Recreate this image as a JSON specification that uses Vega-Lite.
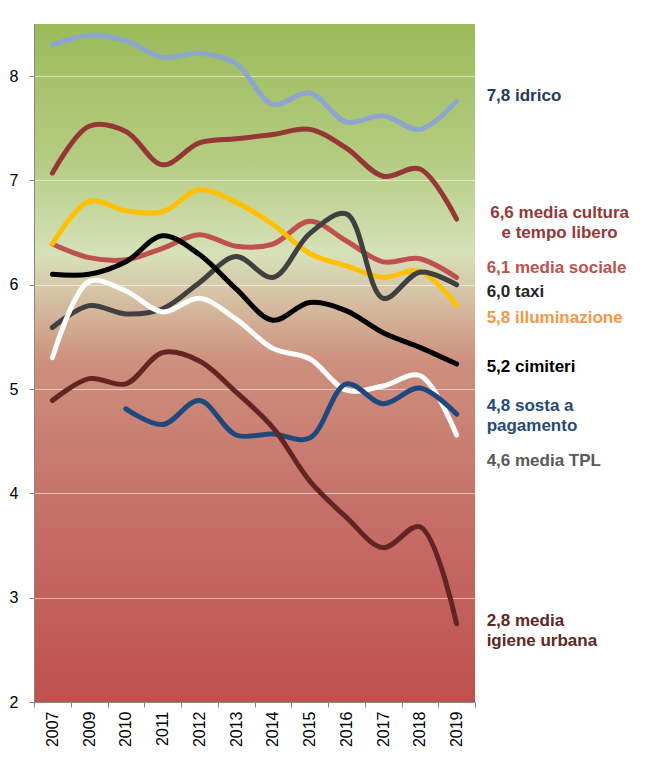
{
  "$schema": "https://vega.github.io/schema/vega-lite/v6.json",
  "width": 441,
  "height": 678,
  "padding": {"left": 9, "top": 24, "right": 5, "bottom": 5},
  "background": "white",
  "config": {
    "font": "Liberation Sans",
    "view": {
      "stroke": null,
      "fill": {
        "gradient": "linear", "x1": 0, "y1": 0, "x2": 0, "y2": 1,
        "stops": [
          {"offset": 0, "color": "#9BBB59"},
          {"offset": 0.2, "color": "#B5CC82"},
          {"offset": 0.34, "color": "#D6E1B9"},
          {"offset": 0.4, "color": "#D6C2A4"},
          {"offset": 0.5, "color": "#CD8F7D"},
          {"offset": 0.7, "color": "#C6726A"},
          {"offset": 1, "color": "#C0504D"}
        ]
      }
    }
  },
  "datasets": {
    "series": [
      {"year": "2007", "series": "idrico", "value": 8.30},
      {"year": "2009", "series": "idrico", "value": 8.39},
      {"year": "2010", "series": "idrico", "value": 8.34},
      {"year": "2011", "series": "idrico", "value": 8.18},
      {"year": "2012", "series": "idrico", "value": 8.22},
      {"year": "2013", "series": "idrico", "value": 8.12},
      {"year": "2014", "series": "idrico", "value": 7.73},
      {"year": "2015", "series": "idrico", "value": 7.84},
      {"year": "2016", "series": "idrico", "value": 7.56},
      {"year": "2017", "series": "idrico", "value": 7.62},
      {"year": "2018", "series": "idrico", "value": 7.49},
      {"year": "2019", "series": "idrico", "value": 7.76},

      {"year": "2007", "series": "cultura", "value": 7.07},
      {"year": "2009", "series": "cultura", "value": 7.52},
      {"year": "2010", "series": "cultura", "value": 7.47},
      {"year": "2011", "series": "cultura", "value": 7.15},
      {"year": "2012", "series": "cultura", "value": 7.36},
      {"year": "2013", "series": "cultura", "value": 7.40},
      {"year": "2014", "series": "cultura", "value": 7.44},
      {"year": "2015", "series": "cultura", "value": 7.49},
      {"year": "2016", "series": "cultura", "value": 7.31},
      {"year": "2017", "series": "cultura", "value": 7.04},
      {"year": "2018", "series": "cultura", "value": 7.11},
      {"year": "2019", "series": "cultura", "value": 6.63},

      {"year": "2007", "series": "sociale", "value": 6.39},
      {"year": "2009", "series": "sociale", "value": 6.26},
      {"year": "2010", "series": "sociale", "value": 6.24},
      {"year": "2011", "series": "sociale", "value": 6.35},
      {"year": "2012", "series": "sociale", "value": 6.48},
      {"year": "2013", "series": "sociale", "value": 6.37},
      {"year": "2014", "series": "sociale", "value": 6.39},
      {"year": "2015", "series": "sociale", "value": 6.61},
      {"year": "2016", "series": "sociale", "value": 6.42},
      {"year": "2017", "series": "sociale", "value": 6.22},
      {"year": "2018", "series": "sociale", "value": 6.25},
      {"year": "2019", "series": "sociale", "value": 6.07},

      {"year": "2007", "series": "illuminazione", "value": 6.39},
      {"year": "2009", "series": "illuminazione", "value": 6.80},
      {"year": "2010", "series": "illuminazione", "value": 6.71},
      {"year": "2011", "series": "illuminazione", "value": 6.70},
      {"year": "2012", "series": "illuminazione", "value": 6.91},
      {"year": "2013", "series": "illuminazione", "value": 6.79},
      {"year": "2014", "series": "illuminazione", "value": 6.58},
      {"year": "2015", "series": "illuminazione", "value": 6.30},
      {"year": "2016", "series": "illuminazione", "value": 6.18},
      {"year": "2017", "series": "illuminazione", "value": 6.07},
      {"year": "2018", "series": "illuminazione", "value": 6.13},
      {"year": "2019", "series": "illuminazione", "value": 5.80},

      {"year": "2007", "series": "taxi", "value": 5.59},
      {"year": "2009", "series": "taxi", "value": 5.80},
      {"year": "2010", "series": "taxi", "value": 5.72},
      {"year": "2011", "series": "taxi", "value": 5.77},
      {"year": "2012", "series": "taxi", "value": 6.02},
      {"year": "2013", "series": "taxi", "value": 6.27},
      {"year": "2014", "series": "taxi", "value": 6.07},
      {"year": "2015", "series": "taxi", "value": 6.49},
      {"year": "2016", "series": "taxi", "value": 6.68},
      {"year": "2017", "series": "taxi", "value": 5.87},
      {"year": "2018", "series": "taxi", "value": 6.12},
      {"year": "2019", "series": "taxi", "value": 6.00},

      {"year": "2007", "series": "cimiteri", "value": 6.10},
      {"year": "2009", "series": "cimiteri", "value": 6.10},
      {"year": "2010", "series": "cimiteri", "value": 6.22},
      {"year": "2011", "series": "cimiteri", "value": 6.47},
      {"year": "2012", "series": "cimiteri", "value": 6.29},
      {"year": "2013", "series": "cimiteri", "value": 5.96},
      {"year": "2014", "series": "cimiteri", "value": 5.66},
      {"year": "2015", "series": "cimiteri", "value": 5.83},
      {"year": "2016", "series": "cimiteri", "value": 5.75},
      {"year": "2017", "series": "cimiteri", "value": 5.54},
      {"year": "2018", "series": "cimiteri", "value": 5.40},
      {"year": "2019", "series": "cimiteri", "value": 5.24},

      {"year": "2007", "series": "TPL", "value": 5.30},
      {"year": "2009", "series": "TPL", "value": 6.03},
      {"year": "2010", "series": "TPL", "value": 5.94},
      {"year": "2011", "series": "TPL", "value": 5.74},
      {"year": "2012", "series": "TPL", "value": 5.87},
      {"year": "2013", "series": "TPL", "value": 5.67},
      {"year": "2014", "series": "TPL", "value": 5.39},
      {"year": "2015", "series": "TPL", "value": 5.29},
      {"year": "2016", "series": "TPL", "value": 4.99},
      {"year": "2017", "series": "TPL", "value": 5.03},
      {"year": "2018", "series": "TPL", "value": 5.13},
      {"year": "2019", "series": "TPL", "value": 4.56},

      {"year": "2010", "series": "sosta", "value": 4.81},
      {"year": "2011", "series": "sosta", "value": 4.66},
      {"year": "2012", "series": "sosta", "value": 4.89},
      {"year": "2013", "series": "sosta", "value": 4.56},
      {"year": "2014", "series": "sosta", "value": 4.57},
      {"year": "2015", "series": "sosta", "value": 4.53},
      {"year": "2016", "series": "sosta", "value": 5.05},
      {"year": "2017", "series": "sosta", "value": 4.86},
      {"year": "2018", "series": "sosta", "value": 5.01},
      {"year": "2019", "series": "sosta", "value": 4.76},

      {"year": "2007", "series": "igiene", "value": 4.89},
      {"year": "2009", "series": "igiene", "value": 5.10},
      {"year": "2010", "series": "igiene", "value": 5.05},
      {"year": "2011", "series": "igiene", "value": 5.35},
      {"year": "2012", "series": "igiene", "value": 5.27},
      {"year": "2013", "series": "igiene", "value": 4.97},
      {"year": "2014", "series": "igiene", "value": 4.63},
      {"year": "2015", "series": "igiene", "value": 4.12},
      {"year": "2016", "series": "igiene", "value": 3.77},
      {"year": "2017", "series": "igiene", "value": 3.48},
      {"year": "2018", "series": "igiene", "value": 3.68},
      {"year": "2019", "series": "igiene", "value": 2.75}
    ],
    "labels": [
      {"key": "idrico", "text": "7,8 idrico", "pos": 7.81},
      {"key": "sociale", "text": "6,1 media sociale", "pos": 6.16},
      {"key": "taxi", "text": "6,0 taxi", "pos": 5.93},
      {"key": "illuminazione", "text": "5,8 illuminazione", "pos": 5.68},
      {"key": "cimiteri", "text": "5,2 cimiteri", "pos": 5.21},
      {"key": "sosta", "text": "4,8 sosta a\npagamento", "pos": 4.84},
      {"key": "TPL", "text": "4,6 media TPL", "pos": 4.31},
      {"key": "igiene", "text": "2,8 media\nigiene urbana", "pos": 2.78}
    ],
    "labelsCenter": [
      {"key": "cultura", "text": "6,6 media cultura\ne tempo libero", "pos": 6.69}
    ]
  },
  "encoding": {
    "x": {
      "field": "year", "type": "ordinal",
      "scale": {"paddingInner": 0, "paddingOuter": 0},
      "axis": {
        "title": null, "labelAngle": -90, "labelFontSize": 16, "labelColor": "#000000",
        "tickBand": "extent", "labelPadding": 4,
        "tickSize": 5, "tickColor": "#868686", "domainColor": "#868686", "grid": false
      }
    }
  },
  "layer": [
    {
      "data": {"name": "series"},
      "mark": {"type": "line", "strokeWidth": 5, "interpolate": "catmull-rom", "strokeCap": "round"},
      "encoding": {
        "y": {
          "field": "value", "type": "quantitative",
          "scale": {"domain": [2, 8.5], "nice": false, "zero": false},
          "axis": {
            "title": null, "values": [2, 3, 4, 5, 6, 7, 8], "format": "d", "labelFontSize": 16, "labelColor": "#000000",
            "tickSize": 5, "labelPadding": 11, "tickColor": "#868686", "domainColor": "#868686",
            "grid": true, "gridColor": "#FFFFFF", "gridOpacity": 0.55, "gridWidth": 1
          }
        },
        "color": {
          "field": "series", "type": "nominal", "legend": null,
          "scale": {
            "domain": ["idrico", "cultura", "sociale", "illuminazione", "taxi", "cimiteri", "TPL", "sosta", "igiene"],
            "range": ["#8EA5CF", "#953735", "#C0504D", "#FFC000", "#404040", "#000000", "#FFFFFF", "#1F497D", "#632523"]
          }
        },
        "order": {"field": "year"}
      }
    },
    {
      "data": {"name": "labels"},
      "mark": {"type": "text", "align": "left", "baseline": "middle", "dx": 30, "fontSize": 17, "fontWeight": "bold", "lineBreak": "\n", "lineHeight": 20},
      "encoding": {
        "x": {"datum": "2019"},
        "y": {"field": "pos", "type": "quantitative"},
        "text": {"field": "text"},
        "color": {
          "field": "key", "type": "nominal", "legend": null,
          "scale": {
            "domain": ["idrico", "cultura", "sociale", "illuminazione", "taxi", "cimiteri", "TPL", "sosta", "igiene"],
            "range": ["#1F3B5E", "#953735", "#C0504D", "#F79646", "#262626", "#000000", "#595959", "#254A78", "#632523"]
          }
        }
      }
    },
    {
      "data": {"name": "labelsCenter"},
      "mark": {"type": "text", "align": "center", "baseline": "middle", "dx": 103, "fontSize": 17, "fontWeight": "bold", "lineBreak": "\n", "lineHeight": 20, "color": "#953735"},
      "encoding": {
        "x": {"datum": "2019"},
        "y": {"field": "pos", "type": "quantitative"},
        "text": {"field": "text"}
      }
    }
  ],
  "resolve": {"scale": {"color": "independent"}}
}
